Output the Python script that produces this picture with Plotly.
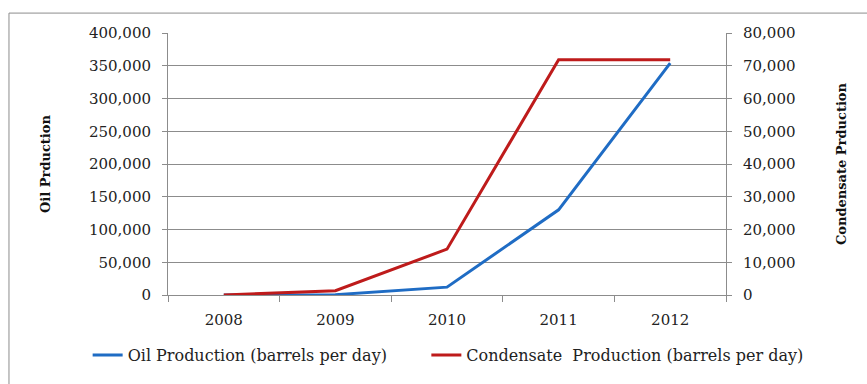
import plotly.graph_objects as go

years = ["2008", "2009", "2010", "2011", "2012"]
oil = [0, 500, 12000, 130000, 354000]
condensate = [0, 1300, 14000, 71800, 71800]
oil_ticks = [0, 50000, 100000, 150000, 200000, 250000, 300000, 350000, 400000]
cond_ticks = [0, 10000, 20000, 30000, 40000, 50000, 60000, 70000, 80000]

FONT = "DejaVu Serif"
GRID = "#8c8c8c"
LEGFONT = dict(family="DejaVu Serif", size=16, color="#222")

fig = go.Figure()
fig.add_trace(go.Scatter(x=years, y=oil, mode="lines", name="Oil Production (barrels per day)",
                         line=dict(color="#1f6cc4", width=3), yaxis="y", legend="legend"))
fig.add_trace(go.Scatter(x=years, y=condensate, mode="lines", name="Condensate  Production (barrels per day)",
                         line=dict(color="#be1b1b", width=3), yaxis="y2", legend="legend2"))

fig.update_layout(
    width=867, height=384,
    margin=dict(l=168, r=141, t=33, b=89, autoexpand=False),
    paper_bgcolor="white", plot_bgcolor="white",
    font=dict(family=FONT, size=14, color="#222"),
    showlegend=True,
    legend=dict(orientation="h", x=-0.144, xanchor="left", y=-0.229, yanchor="middle",
                font=LEGFONT, bgcolor="rgba(0,0,0,0)"),
    legend2=dict(orientation="h", x=0.463, xanchor="left", y=-0.229, yanchor="middle",
                 font=LEGFONT, bgcolor="rgba(0,0,0,0)"),
    xaxis=dict(type="category", range=[-0.5, 4.5], showline=True, linecolor=GRID, linewidth=1,
               ticks="outside", tickson="boundaries", ticklen=6, tickcolor=GRID,
               showgrid=False, tickfont=dict(family=FONT, size=15, color="#222"), ticklabelstandoff=11),
    yaxis=dict(range=[0, 400000], tickvals=oil_ticks, tickformat=",d", showline=True,
               linecolor=GRID, linewidth=1, ticks="outside", ticklen=5, tickcolor=GRID,
               gridcolor=GRID, gridwidth=1, zeroline=False,
               tickfont=dict(family=FONT, size=15, color="#222"),
               ticklabelstandoff=8,
               title=dict(text="<b>Oil Prduction</b>", font=dict(family=FONT, size=13, color="#111"), standoff=35)),
    yaxis2=dict(range=[0, 80000], tickvals=cond_ticks, tickformat=",d", overlaying="y",
                side="right", showline=True, linecolor=GRID, linewidth=1, ticks="outside",
                ticklen=5, tickcolor=GRID, showgrid=False, zeroline=False,
                tickfont=dict(family=FONT, size=15, color="#222"), ticklabelstandoff=8,
                title=dict(text="<b>Condensate Prduction</b>", font=dict(family=FONT, size=13, color="#111"), standoff=42)),
    shapes=[dict(type="rect", xref="paper", yref="paper", x0=-0.285, x1=1.26, y0=-0.37, y1=1.076,
                 line=dict(color="#8c8c8c", width=1), fillcolor="rgba(0,0,0,0)", layer="below")],
)

fig.write_html("out.html")
